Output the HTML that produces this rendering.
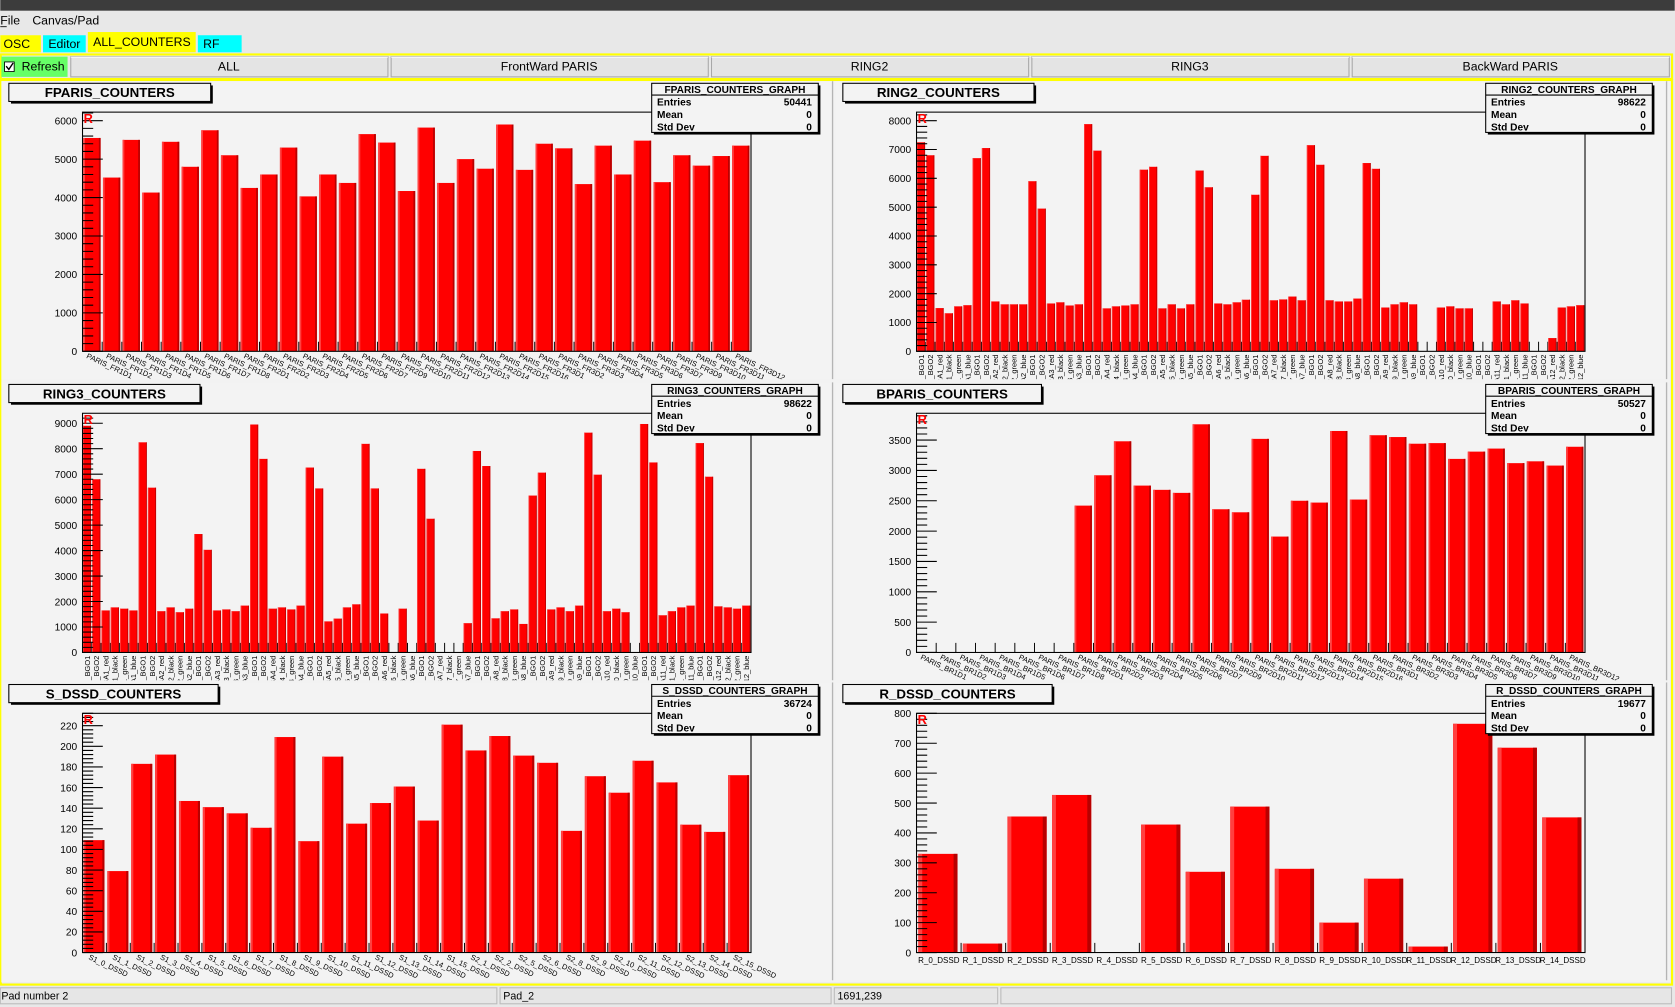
<!DOCTYPE html>
<html><head><meta charset="utf-8"><style>
html,body{margin:0;padding:0;background:#e8e8e8;overflow:hidden}
svg{display:block;font-family:"Liberation Sans",sans-serif}
</style></head><body>
<svg id="root" width="1675" height="1007" viewBox="0 0 1568 943" xmlns="http://www.w3.org/2000/svg">
<rect x="0" y="0" width="1568" height="943" fill="#e8e8e8"/>
<rect x="0" y="0" width="1568" height="10" fill="#3c3c3c"/>
<text x="0" y="23" font-size="11.5" fill="#000">File</text>
<line x1="0" y1="25" x2="6" y2="25" stroke="#000" stroke-width="0.8"/>
<text x="30" y="23" font-size="11.5" fill="#000">Canvas/Pad</text>
<g><rect x="0" y="33" width="38" height="16" fill="#ffff00"/><text x="3" y="45" font-size="11.5">OSC</text></g>
<g><rect x="40" y="33" width="40" height="16" fill="#00ffff"/><text x="45" y="45" font-size="11.5">Editor</text></g>
<g><rect x="82" y="30" width="101" height="19" fill="#ffff00"/><text x="87" y="43" font-size="11.5">ALL_COUNTERS</text></g>
<g><rect x="185" y="33" width="41" height="16" fill="#00ffff"/><text x="190" y="45" font-size="11.5">RF</text></g>
<rect x="0.5" y="51" width="1565" height="23" fill="none" stroke="#ffff00" stroke-width="2"/>
<g><rect x="1" y="53" width="62" height="19" fill="#66ff66"/><rect x="4" y="58" width="9" height="9" fill="#fff" stroke="#000" stroke-width="0.8"/><path d="M5.5 62 L8 65 L12 59" stroke="#000" fill="none" stroke-width="1.3"/><text x="20" y="66" font-size="11.5">Refresh</text></g>
<g id="btns"></g>
<rect x="0.5" y="75" width="1565" height="847" fill="none" stroke="#ffff00" stroke-width="2"/>
<rect x="1" y="76" width="1563" height="844" fill="#f2f2f2"/>
<g id="pads"></g>
<g>
<rect x="0" y="925" width="465" height="15" fill="#e6e6e6" stroke="#bbb"/><text x="1" y="936" font-size="10">Pad number 2</text>
<rect x="468" y="925" width="310" height="15" fill="#e6e6e6" stroke="#bbb"/><text x="471" y="936" font-size="10">Pad_2</text>
<rect x="781" y="925" width="153" height="15" fill="#e6e6e6" stroke="#bbb"/><text x="784" y="936" font-size="10">1691,239</text>
<rect x="937" y="925" width="628" height="15" fill="#e6e6e6" stroke="#bbb"/>
</g>
</svg>
<script>
const NS='http://www.w3.org/2000/svg';
// ---------- data ----------
const fparisValues=[5550,4520,5500,4130,5450,4800,5750,5100,4250,4600,5300,4030,4600,4380,5650,5430,4170,5820,4380,5000,4750,5900,4720,5400,5280,4350,5350,4600,5480,4400,5100,4830,5080,5350];
const fparisLabels=['PARIS_FR1D1','PARIS_FR1D2','PARIS_FR1D3','PARIS_FR1D4','PARIS_FR1D5','PARIS_FR1D6','PARIS_FR1D7','PARIS_FR1D8','PARIS_FR2D1','PARIS_FR2D2','PARIS_FR2D3','PARIS_FR2D4','PARIS_FR2D5','PARIS_FR2D6','PARIS_FR2D7','PARIS_FR2D9','PARIS_FR2D10','PARIS_FR2D11','PARIS_FR2D12','PARIS_FR2D13','PARIS_FR2D14','PARIS_FR2D15','PARIS_FR2D16','PARIS_FR3D1','PARIS_FR3D2','PARIS_FR3D3','PARIS_FR3D4','PARIS_FR3D5','PARIS_FR3D6','PARIS_FR3D7','PARIS_FR3D9','PARIS_FR3D10','PARIS_FR3D11','PARIS_FR3D12'];
const ring2Values=[7250,6800,1500,1320,1560,1600, 6700,7050,1730,1630,1630,1630, 5900,4950,1660,1700,1590,1630, 7880,6960,1490,1560,1590,1630, 6300,6400,1490,1630,1490,1630, 6270,5690,1660,1630,1700,1790, 5430,6780,1770,1800,1900,1770, 7150,6470,1770,1730,1730,1830, 6530,6330,1520,1630,1700,1630, 0,0,1520,1560,1490,1490, 0,0,1730,1630,1770,1660, 0,0,460,1520,1560,1600];
const ring3Values=[8900,6800,1650,1770,1720,1650, 8250,6470,1620,1770,1580,1720, 4650,4030,1650,1690,1620,1840, 8950,7600,1720,1770,1690,1840, 7260,6440,1220,1330,1770,1890, 8190,6440,1530,0,1720,0, 7210,5250,0,0,0,1150, 7910,7320,1340,1620,1690,1120, 6160,7060,1690,1770,1620,1840, 8630,6980,1620,1720,1580,0, 8970,7460,1460,1620,1770,1840, 8220,6900,1810,1770,1720,1840];
const ringSuffixes=['BGO1','BGO2','red','black','green','blue'];
const bparisValues=[0,0,0,0,0,0,0,0,2420,2920,3480,2750,2680,2630,3760,2360,2310,3520,1910,2500,2470,3650,2520,3580,3550,3440,3450,3190,3310,3360,3120,3150,3080,3390];
const bparisLabels=['PARIS_BR1D1','PARIS_BR1D2','PARIS_BR1D3','PARIS_BR1D4','PARIS_BR1D5','PARIS_BR1D6','PARIS_BR1D7','PARIS_BR1D8','PARIS_BR2D1','PARIS_BR2D2','PARIS_BR2D3','PARIS_BR2D4','PARIS_BR2D5','PARIS_BR2D6','PARIS_BR2D7','PARIS_BR2D9','PARIS_BR2D10','PARIS_BR2D11','PARIS_BR2D12','PARIS_BR2D13','PARIS_BR2D14','PARIS_BR2D15','PARIS_BR2D16','PARIS_BR3D1','PARIS_BR3D2','PARIS_BR3D3','PARIS_BR3D4','PARIS_BR3D5','PARIS_BR3D6','PARIS_BR3D7','PARIS_BR3D9','PARIS_BR3D10','PARIS_BR3D11','PARIS_BR3D12'];
const sdssdValues=[109,79,183,192,147,141,135,121,209,108,190,125,145,161,128,221,196,210,191,184,118,171,155,186,165,124,117,172];
const sdssdLabels=['S1_0_DSSD','S1_1_DSSD','S1_2_DSSD','S1_3_DSSD','S1_4_DSSD','S1_5_DSSD','S1_6_DSSD','S1_7_DSSD','S1_8_DSSD','S1_9_DSSD','S1_10_DSSD','S1_11_DSSD','S1_12_DSSD','S1_13_DSSD','S1_14_DSSD','S1_15_DSSD','S2_1_DSSD','S2_2_DSSD','S2_5_DSSD','S2_6_DSSD','S2_8_DSSD','S2_9_DSSD','S2_10_DSSD','S2_11_DSSD','S2_12_DSSD','S2_13_DSSD','S2_14_DSSD','S2_15_DSSD'];
const rdssdValues=[330,30,455,527,0,428,270,488,280,100,247,20,765,685,452];
const rdssdLabels=['R_0_DSSD','R_1_DSSD','R_2_DSSD','R_3_DSSD','R_4_DSSD','R_5_DSSD','R_6_DSSD','R_7_DSSD','R_8_DSSD','R_9_DSSD','R_10_DSSD','R_11_DSSD','R_12_DSSD','R_13_DSSD','R_14_DSSD'];
const buttonLabels=['ALL','FrontWard PARIS','RING2','RING3','BackWard PARIS'];
const entriesValues=['50441','98622','98622','50527','36724','19677'];

function ringLabels(r){const a=[];for(let g=1;g<=12;g++)for(const s of ringSuffixes)a.push('R'+r+'A'+g+'_'+s);return a;}

function mk(tag,attrs,parent){const e=document.createElementNS(NS,tag);for(const k in attrs)e.setAttribute(k,attrs[k]);if(parent)parent.appendChild(e);return e;}

// buttons
const btns=document.getElementById('btns');
buttonLabels.forEach((b,i)=>{
  const x=66+i*300;
  const g=mk('g',{},btns);
  
  
  mk('rect',{x:x,y:53,width:297,height:19,fill:'#e4e4e4',stroke:'#a8a8a8','stroke-width':1},g);
  mk('line',{x1:x,y1:53.5,x2:x+297,y2:53.5,stroke:'#fff'},g);
  const t=mk('text',{x:x+148,y:66,'font-size':11.5,'text-anchor':'middle'},g);t.textContent=b;
});

const pads=[
 {name:'FPARIS_COUNTERS',vals:fparisValues,labels:fparisLabels,ymax:6222,major:1000,minor:5,px:0,py:76,titleW:189,lab:'slant',ent:entriesValues[0]},
 {name:'RING2_COUNTERS',vals:ring2Values,labels:ringLabels(2),ymax:8296,major:1000,minor:5,px:781,py:76,titleW:179,lab:'vert',ent:entriesValues[1]},
 {name:'RING3_COUNTERS',vals:ring3Values,labels:ringLabels(3),ymax:9391,major:1000,minor:5,px:0,py:358,titleW:179,lab:'vert',ent:entriesValues[2]},
 {name:'BPARIS_COUNTERS',vals:bparisValues,labels:bparisLabels,ymax:3942,major:500,minor:5,px:781,py:358,titleW:186,lab:'slant',ent:entriesValues[3]},
 {name:'S_DSSD_COUNTERS',vals:sdssdValues,labels:sdssdLabels,ymax:232,major:20,minor:5,px:0,py:639,titleW:196,lab:'slant',ent:entriesValues[4]},
 {name:'R_DSSD_COUNTERS',vals:rdssdValues,labels:rdssdLabels,ymax:800,major:100,minor:5,px:781,py:639,titleW:196,lab:'horiz',ent:entriesValues[5]}
];
const root=document.getElementById('pads');
const defs=mk('defs',{},document.getElementById('root'));
pads.forEach((p,pi)=>{
  const id=p.name.toLowerCase().replace(/_/g,'-');
  const cp=mk('clipPath',{id:'clip'+pi},defs);
  mk('rect',{x:p.px+1,y:p.py,width:779,height:279},cp);
  const g=mk('g',{'clip-path':'url(#clip'+pi+')'},root);
  
  
  mk('rect',{x:p.px+1,y:p.py,width:778,height:280,fill:'#f3f3f3'},g);
  mk('line',{x1:p.px,y1:p.py+280.5,x2:p.px+781,y2:p.py+280.5,stroke:'#b4b4b4','stroke-width':1.5},g);
  mk('line',{x1:p.px+779.5,y1:p.py,x2:p.px+779.5,y2:p.py+281,stroke:'#b4b4b4','stroke-width':1.5},g);
  const fx=p.px+77,fy=p.py+29,fw=626,fh=224;
  const X=i=>fx+i*fw/p.vals.length;
  const Y=v=>fy+fh-v/p.ymax*fh;
  const bw=fw/p.vals.length;
  const xt=mk('g',{},g);
  
  
  for(let i=0;i<=p.vals.length;i++) mk('line',{x1:X(i),y1:fy+fh,x2:X(i),y2:fy+fh-9,stroke:'#000','stroke-width':0.9},xt);
  p.vals.forEach((v,i)=>{
    if(v<=0) return;
    const bx=X(i)+bw*0.04, w=bw*0.88, y=Y(v), h=fy+fh-y;
    const b=mk('g',{},g);
    
    
    mk('rect',{x:bx,y:y,width:w,height:h,fill:'#ff0000'},b);
    mk('rect',{x:bx,y:y,width:w*0.1,height:h,fill:'#ff4040'},b);
    mk('rect',{x:bx+w*0.9,y:y,width:w*0.1,height:h,fill:'#b80000'},b);
  });
  const fr=mk('rect',{x:fx,y:fy,width:fw,height:fh,fill:'none',stroke:'#000','stroke-width':1},g);
  
  
  const ya=mk('g',{},g);
  
  
  const step=p.major/p.minor;
  for(let k=0;k*step<=p.ymax;k++){
    const v=k*step, y=Y(v), maj=k%p.minor===0;
    mk('line',{x1:fx,y1:y,x2:fx+(maj?19:10),y2:y,stroke:'#000','stroke-width':1},ya);
    if(maj){const t=mk('text',{x:fx-5,y:y+3.5,'font-size':9.5,'text-anchor':'end'},ya);t.textContent=String(v);}
  }
  const r=mk('text',{x:fx+1,y:fy+10,'font-size':12,'font-weight':'bold',fill:'#ff0000'},g);r.textContent='R';
  const xl=mk('g',{},g);
  
  
  p.labels.forEach((l,i)=>{
    const cx=X(i+0.5);
    let t;
    if(p.lab==='slant') t=mk('text',{x:cx-6,y:fy+fh+6,'font-size':7,transform:`rotate(25 ${cx-6} ${fy+fh+6})`},xl);
    else if(p.lab==='vert') t=mk('text',{x:cx+2.5,y:fy+fh+3,'font-size':7,'text-anchor':'end',transform:`rotate(-90 ${cx+2.5} ${fy+fh+3})`},xl);
    else t=mk('text',{x:cx,y:fy+fh+10,'font-size':7.5,'text-anchor':'middle'},xl);
    t.textContent=l;
  });
  const tb=mk('g',{},g);
  
  
  mk('rect',{x:p.px+10,y:p.py+4,width:p.titleW,height:17,fill:'#000'},tb);
  mk('rect',{x:p.px+8,y:p.py+2,width:p.titleW,height:17,fill:'#f3f3f3',stroke:'#000','stroke-width':1},tb);
  const tt=mk('text',{x:p.px+8+p.titleW/2,y:p.py+15,'font-size':12.5,'font-weight':'bold','text-anchor':'middle'},tb);tt.textContent=p.name;
  const sb=mk('g',{},g);
  
  
  const sx=p.px+610,sy=p.py+2;
  mk('rect',{x:sx+2,y:sy+2,width:156,height:46,fill:'#000'},sb);
  mk('rect',{x:sx,y:sy,width:156,height:46,fill:'#f3f3f3',stroke:'#000','stroke-width':1},sb);
  mk('line',{x1:sx,y1:sy+11,x2:sx+156,y2:sy+11,stroke:'#000','stroke-width':1},sb);
  const st=mk('text',{x:sx+78,y:sy+9,'font-size':9.5,'text-anchor':'middle','font-weight':'bold'},sb);st.textContent=p.name+'_GRAPH';
  [['Entries',p.ent],['Mean','0'],['Std Dev','0']].forEach((row,k)=>{
    const a=mk('text',{x:sx+5,y:sy+21+k*11.5,'font-size':9.5,'font-weight':'bold'},sb);a.textContent=row[0];
    const b=mk('text',{x:sx+150,y:sy+21+k*11.5,'font-size':9.5,'font-weight':'bold','text-anchor':'end'},sb);b.textContent=row[1];
  });
});
</script>
</body></html>
